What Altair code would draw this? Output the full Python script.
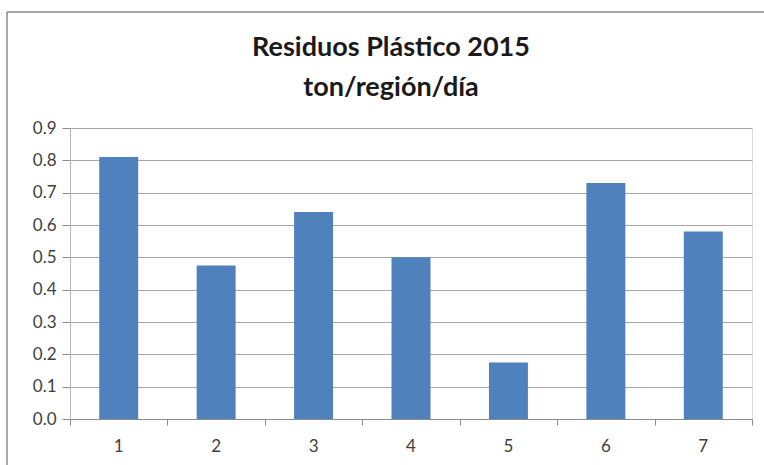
import altair as alt
import pandas as pd

# Waste figures per region (ton/region/day)
regions = ["1", "2", "3", "4", "5", "6", "7"]
plastic = [0.81, 0.475, 0.64, 0.5, 0.175, 0.73, 0.58]
y_ticks = [0.0, 0.1, 0.2, 0.3, 0.4, 0.5, 0.6, 0.7, 0.8, 0.9]
title_lines = ["Residuos Plástico 2015", "ton/región/día"]

df = pd.DataFrame({"region": regions, "value": plastic})
# category boundaries for the x-axis tick marks
bounds = pd.DataFrame({"b": list(range(len(regions) + 1))})
one = pd.DataFrame({"k": [0]})

AXIS_GRAY = "#8c8c8c"
LABEL = "#404040"
FONT = "Lato"

bars = alt.Chart(df).mark_bar(color="#4F81BD").encode(
    x=alt.X(
        "region:N",
        sort=regions,
        scale=alt.Scale(paddingInner=0.6, paddingOuter=0.3),
        axis=alt.Axis(
            title=None, labelAngle=0, ticks=False, domain=True,
            domainColor=AXIS_GRAY, labelPadding=19, labelFontSize=17,
            labelColor=LABEL, labelFont=FONT, orient="bottom",
        ),
    ),
    y=alt.Y(
        "value:Q",
        scale=alt.Scale(domain=[0, 0.9], nice=False),
        axis=alt.Axis(
            title=None, values=y_ticks, format=".1f", grid=True,
            gridColor="#a6a6a6", gridWidth=1, tickColor=AXIS_GRAY,
            tickSize=8, domainColor="#b8b8b8", labelFontSize=17,
            labelColor=LABEL, labelFont=FONT, labelPadding=6,
        ),
    ),
)

# tick marks between categories on the x axis
ticks = alt.Chart(bounds).mark_point(opacity=0).encode(
    x=alt.X(
        "b:Q",
        scale=alt.Scale(domain=[0, len(regions)], nice=False, zero=False),
        axis=alt.Axis(
            title=None, values=list(range(len(regions) + 1)), labels=False,
            grid=False, domain=False, tickSize=6, tickColor=AXIS_GRAY,
            orient="bottom",
        ),
    ),
)

# outer chart frame (open on the right and bottom)
frame_top = alt.Chart(one).mark_rule(color="#8a8a8a", strokeWidth=1.5, clip=False).encode(
    x=alt.value(-63), x2=alt.value(694), y=alt.value(-116)
)
frame_left = alt.Chart(one).mark_rule(color="#8a8a8a", strokeWidth=1.5, clip=False).encode(
    x=alt.value(-63), y=alt.value(-116), y2=alt.value(337)
)

# two-line heading
heading = [
    alt.Chart(one).mark_text(
        text=line, font=FONT, fontSize=27, fontWeight="bold", color="#1a1a1a",
        align="center", baseline="middle", clip=False,
    ).encode(x=alt.value(321), y=alt.value(yy))
    for line, yy in zip(title_lines, [-80, -40])
]

chart = (
    alt.layer(frame_top, frame_left, bars, ticks, *heading)
    .resolve_scale(x="independent")
    .properties(
        width=682,
        height=291,
        padding={"left": 70, "top": 128, "right": 12, "bottom": 46},
        autosize=alt.AutoSizeParams(type="none"),
    )
    .configure_view(stroke=None)
    .configure(background="white")
)

chart.save("out.html", embed_options={"renderer": "svg", "actions": False})
